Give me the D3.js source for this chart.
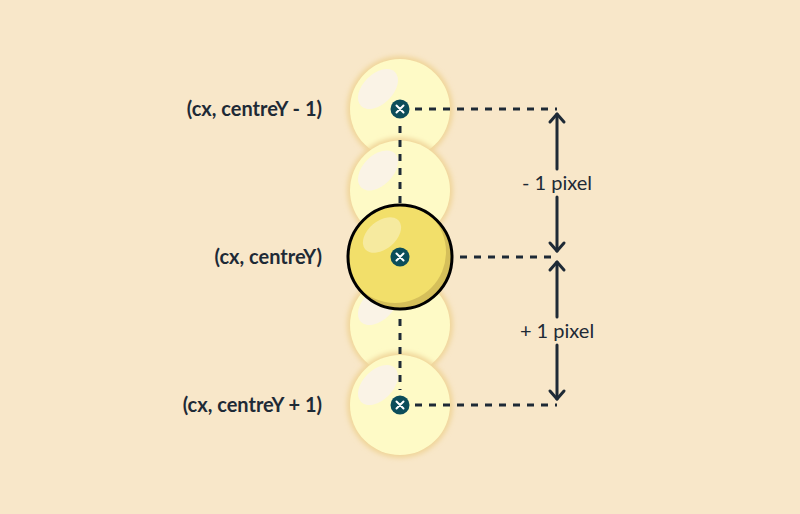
<!DOCTYPE html><html><head><meta charset="utf-8">
<script src="https://cdn.jsdelivr.net/npm/d3@7"></script>
<style>body{margin:0;background:#f8e7c9}</style></head><body>
<script>
const ghostOffsets=[-1,-0.45,0.46,1];
const markerOffsets=[-1,0,1];
const labels=["(cx, centreY - 1)","(cx, centreY)","(cx, centreY + 1)"];
const spanLabels=["- 1 pixel","+ 1 pixel"];
const W=800,H=514,cx=400,ax=557;
const y=d3.scaleLinear().domain([-1,1]).range([109,405]);
const svg=d3.select("body").append("svg").attr("width",W).attr("height",H);
svg.append("rect").attr("width",W).attr("height",H).attr("fill","#f8e7c9");
const defs=svg.append("defs");
const f=defs.append("filter").attr("id","blur").attr("x","-20%").attr("y","-20%").attr("width","140%").attr("height","140%");
f.append("feGaussianBlur").attr("stdDeviation",2.5);
defs.append("clipPath").attr("id","mc").append("circle").attr("cx",cx).attr("cy",y(0)).attr("r",52);
const ink="#1e2a36";
ghostOffsets.forEach(o=>{
  const g=svg.append("g");
  g.append("circle").attr("cx",cx).attr("cy",y(o)).attr("r",53).attr("fill","#f0d59a").attr("filter","url(#blur)");
  g.append("circle").attr("cx",cx).attr("cy",y(o)).attr("r",50).attr("fill","#fefac6");
  g.append("ellipse").attr("cx",cx-22).attr("cy",y(o)-20).attr("rx",24).attr("ry",15).attr("fill","#faf3e6")
   .attr("transform",`rotate(-45 ${cx-22} ${y(o)-20})`);
});
const dash=sel=>sel.attr("stroke",ink).attr("stroke-width",3).attr("stroke-dasharray","7,7").attr("fill","none");
svg.append("line").attr("x1",cx).attr("x2",cx).attr("y1",y(-1)+17).attr("y2",y(0)-53).call(dash);
svg.append("line").attr("x1",cx).attr("x2",cx).attr("y1",y(0)+62).attr("y2",y(1)-15).call(dash);
const m=svg.append("g");
m.append("circle").attr("cx",cx).attr("cy",y(0)).attr("r",52).attr("fill","#d5bf5a");
m.append("circle").attr("cx",cx-5).attr("cy",y(0)-5).attr("r",51).attr("fill","#f2df6a").attr("clip-path","url(#mc)");
m.append("ellipse").attr("cx",cx-18).attr("cy",y(0)-22).attr("rx",22).attr("ry",14).attr("fill","#f6ea9f")
 .attr("transform",`rotate(-40 ${cx-18} ${y(0)-22})`);
m.append("circle").attr("cx",cx).attr("cy",y(0)).attr("r",52).attr("fill","none").attr("stroke","#000").attr("stroke-width",3);
markerOffsets.forEach((o,i)=>{
  svg.append("line").attr("x1",i==1?460:cx+15).attr("x2",ax).attr("y1",y(o)).attr("y2",y(o)).call(dash);
});
markerOffsets.forEach(o=>{
  const g=svg.append("g").attr("transform",`translate(${cx},${y(o)})`);
  g.append("circle").attr("r",9.5).attr("fill","#0c4d5a");
  g.append("path").attr("d","M-3.5,-3.5L3.5,3.5M3.5,-3.5L-3.5,3.5").attr("stroke","#fff").attr("stroke-width",2).attr("stroke-linecap","round");
});
labels.forEach((t,i)=>{
  svg.append("text").attr("x",322).attr("y",y(markerOffsets[i])+7).attr("text-anchor","end")
   .attr("font-family","Lato, 'Open Sans', sans-serif").attr("font-weight","bold").attr("font-size",20).attr("fill",ink).text(t);
});
function arrow(y1,y2,up){
  svg.append("line").attr("x1",ax).attr("x2",ax).attr("y1",y1).attr("y2",y2).attr("stroke",ink).attr("stroke-width",3).attr("stroke-linecap","round");
  const ty=up?y1:y2, s=up?1:-1;
  svg.append("path").attr("d",`M${ax-7},${ty+8*s}L${ax},${ty}L${ax+7},${ty+8*s}`).attr("stroke",ink).attr("stroke-width",3).attr("fill","none").attr("stroke-linecap","round").attr("stroke-linejoin","round");
}
spanLabels.forEach((t,i)=>{
  const a=y(markerOffsets[i]),b=y(markerOffsets[i+1]),mid=(a+b)/2;
  arrow(a+5,mid-14,true); arrow(mid+14,b-6,false);
  svg.append("text").attr("x",ax).attr("y",mid+7).attr("text-anchor","middle")
   .attr("font-family","Lato, 'Open Sans', sans-serif").attr("font-size",20).attr("fill",ink).text(t);
});
</script></body></html>
